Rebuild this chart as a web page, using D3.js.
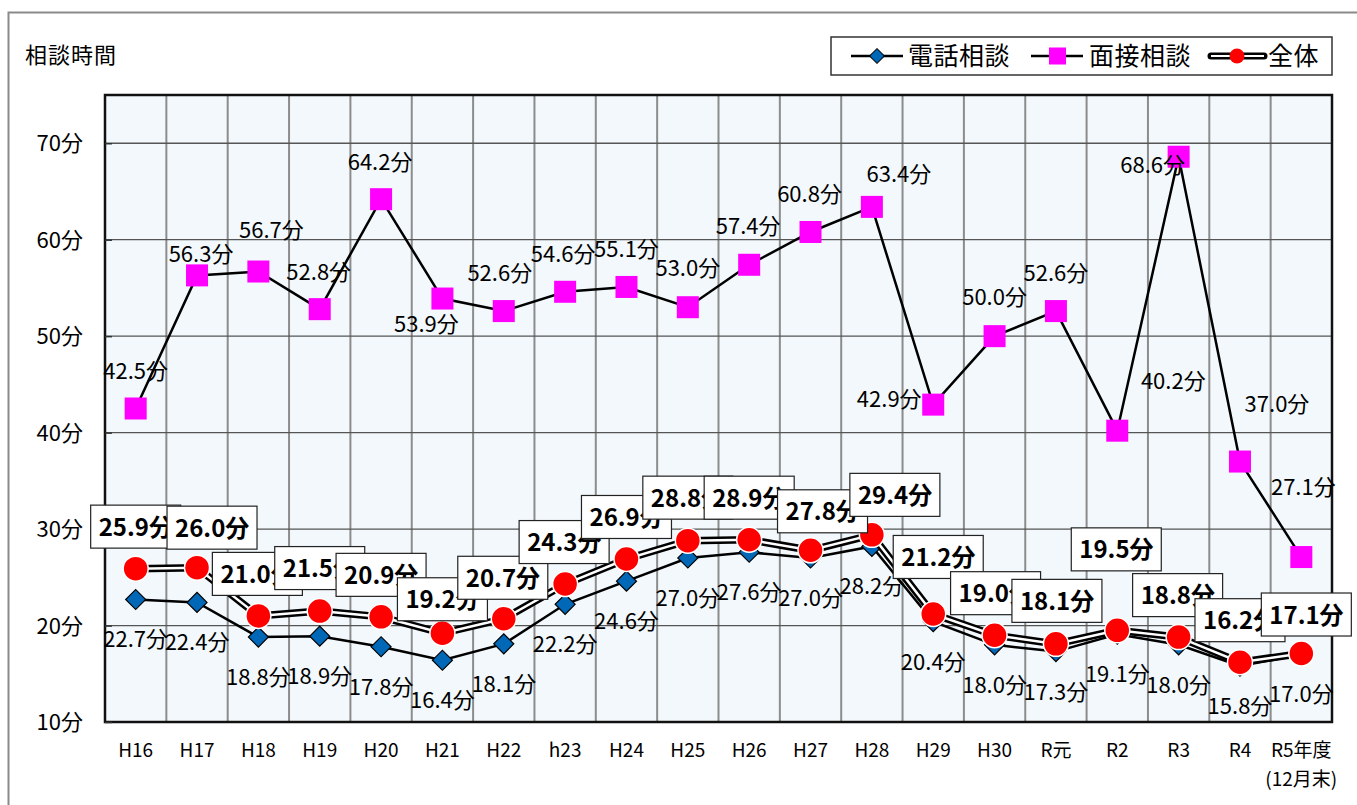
<html>
<head>
<meta charset="utf-8">
<script src="https://d3js.org/d3.v7.min.js"></script>
<style>
body {margin: 0; background: white;}
text {font-family: "Noto Sans CJK JP", "Noto Sans", sans-serif; fill: black;}
</style>
</head>
<body>
<div id="chart"></div>
<script>
// data
var categories = ["H16","H17","H18","H19","H20","H21","H22","h23","H24","H25","H26","H27","H28","H29","H30","R元","R2","R3","R4","R5年度"];
var lastNote = "(12月末)";
var phone = [22.7,22.4,18.8,18.9,17.8,16.4,18.1,22.2,24.6,27.0,27.6,27.0,28.2,20.4,18.0,17.3,19.1,18.0,15.8,17.0];
var visit = [42.5,56.3,56.7,52.8,64.2,53.9,52.6,54.6,55.1,53.0,57.4,60.8,63.4,42.9,50.0,52.6,40.2,68.6,37.0,27.1];
var total = [25.9,26.0,21.0,21.5,20.9,19.2,20.7,24.3,26.9,28.8,28.9,27.8,29.4,21.2,19.0,18.1,19.5,18.8,16.2,17.1];
var yTicks = [10,20,30,40,50,60,70];
var seriesNames = ["電話相談","面接相談","全体"];

// label placements (pixel offsets from the point), as in the original chart
var visitLabelOff = [[0,-30],[4,-13],[13,-34],[-1,-29],[-1,-29],[-16,33],[-4,-30],[-2,-30],[0,-30],[0,-31],[-1,-31],[-1,-30],[27,-25],[-44,2],[0,-31],[0,-30],[56,-42],[-26,16],[37,-50],[2,-62]];
var totalLabelOff = [[0,-42],[15,-40],[-1,-42],[0,-43],[0,-42],[0,-34],[-1,-41],[-1,-42],[0,-42],[0,-43],[0,-42],[12,-39],[23,-40],[5,-57],[1,-42],[1,-43],[-1,-81],[-1,-42],[0,-42],[5,-39]];

var W = 1357, H = 805;
var svg = d3.select("#chart").append("svg").attr("width", W).attr("height", H);

// outer frame
svg.append("rect").attr("x",8.5).attr("y",12.5).attr("width",W).attr("height",H)
  .attr("fill","white").attr("stroke","#8a8a8a").attr("stroke-width",2);

var pL = 105, pR = 1332, pT = 95, pB = 722;
var x = d3.scaleBand().domain(categories).range([pL, pR]).padding(0);
var y = d3.scaleLinear().domain([10, 75]).range([pB, pT]);
var cx = function(i){ return x(categories[i]) + x.bandwidth()/2; };

// plot background
svg.append("rect").attr("x",pL).attr("y",pT).attr("width",pR-pL).attr("height",pB-pT)
  .attr("fill","#f2f8fb");

// vertical grid at category boundaries
svg.append("g").selectAll("line").data(categories.slice(1)).enter().append("line")
  .attr("x1", function(d){ return x(d); }).attr("x2", function(d){ return x(d); })
  .attr("y1", pT).attr("y2", pB)
  .attr("stroke","#8c8c8c").attr("stroke-width",2);

// horizontal grid
svg.append("g").selectAll("line").data(yTicks.slice(1)).enter().append("line")
  .attr("x1", pL).attr("x2", pR)
  .attr("y1", function(d){ return y(d); }).attr("y2", function(d){ return y(d); })
  .attr("stroke","#555").attr("stroke-width",1.3);

svg.append("rect").attr("x",pL).attr("y",pT).attr("width",pR-pL).attr("height",pB-pT)
  .attr("fill","none").attr("stroke","#111").attr("stroke-width",2.5);

// y axis
var yAxis = svg.append("g").attr("transform","translate(" + pL + ",0)")
  .call(d3.axisLeft(y).tickValues(yTicks).tickSize(-7).tickPadding(22).tickFormat(function(d){ return d + "分"; }));
yAxis.select(".domain").remove();
yAxis.selectAll("line").attr("stroke","#333").attr("stroke-width",1.5);
yAxis.selectAll("text").style("font-size","22px").attr("fill","black").attr("dy","0.35em")
  .style("font-family","'Noto Sans CJK JP', sans-serif");

svg.append("text").attr("x",25).attr("y",63).style("font-size","22px").style("letter-spacing","1px").text("相談時間");

// x labels
var xl = svg.append("g");
xl.selectAll("text").data(categories).enter().append("text")
  .attr("x", function(d,i){ return cx(i); }).attr("y", 757)
  .attr("text-anchor","middle").style("font-size","19px")
  .text(function(d){ return d; });
xl.append("text").attr("x", cx(categories.length-1)).attr("y", 786)
  .attr("text-anchor","middle").style("font-size","19px").text(lastNote);

var line = d3.line().x(function(d,i){ return cx(i); }).y(function(d){ return y(d); });

// 面接相談
svg.append("path").datum(visit).attr("d", line).attr("fill","none").attr("stroke","black").attr("stroke-width",2.5);
svg.append("g").selectAll("rect").data(visit).enter().append("rect")
  .attr("x", function(d,i){ return cx(i)-11; }).attr("y", function(d){ return y(d)-11; })
  .attr("width",22).attr("height",22).attr("fill","#ff00ff");

// 電話相談
svg.append("path").datum(phone).attr("d", line).attr("fill","none").attr("stroke","black").attr("stroke-width",2.5);
svg.append("g").selectAll("path").data(phone).enter().append("path")
  .attr("d", d3.symbol().type(d3.symbolSquare).size(200))
  .attr("transform", function(d,i){ return "translate(" + cx(i) + "," + y(d) + ") rotate(45)"; })
  .attr("fill","#0068b7").attr("stroke","black").attr("stroke-width",1.2);

// 全体 (double line)
svg.append("path").datum(total).attr("d", line).attr("fill","none").attr("stroke","black").attr("stroke-width",7.5);
svg.append("path").datum(total).attr("d", line).attr("fill","none").attr("stroke","white").attr("stroke-width",2.5);
svg.append("g").selectAll("circle").data(total).enter().append("circle")
  .attr("cx", function(d,i){ return cx(i); }).attr("cy", function(d){ return y(d); })
  .attr("r",12.5).attr("fill","#ff0000").attr("stroke","white").attr("stroke-width",1.5);

// labels 面接
svg.append("g").selectAll("text").data(visit).enter().append("text")
  .attr("x", function(d,i){ return cx(i) + visitLabelOff[i][0]; })
  .attr("y", function(d,i){ return y(d) + visitLabelOff[i][1]; })
  .attr("text-anchor","middle").style("font-size","22px")
  .text(function(d){ return d.toFixed(1) + "分"; });

// labels 電話
svg.append("g").selectAll("text").data(phone).enter().append("text")
  .attr("x", function(d,i){ return cx(i); })
  .attr("y", function(d){ return y(d) + 48; })
  .attr("text-anchor","middle").style("font-size","22px")
  .text(function(d){ return d.toFixed(1) + "分"; });

// boxed labels 全体
var boxes = svg.append("g").selectAll("g").data(total).enter().append("g")
  .attr("transform", function(d,i){ return "translate(" + (cx(i) + totalLabelOff[i][0]) + "," + (y(d) + totalLabelOff[i][1]) + ")"; });
boxes.append("rect").attr("x",-45).attr("y",-21.5).attr("width",90).attr("height",43)
  .attr("fill","white").attr("stroke","#222").attr("stroke-width",1.2);
boxes.append("text").attr("x",-37).attr("y",9).style("font-size","24px").style("font-weight","bold")
  .text(function(d){ return d.toFixed(1) + "分"; });

// legend
var lg = svg.append("g");
lg.append("rect").attr("x",831).attr("y",37).attr("width",501).attr("height",38)
  .attr("fill","white").attr("stroke","#333").attr("stroke-width",1.5);
var ly = 56;
lg.append("line").attr("x1",851).attr("x2",903).attr("y1",ly).attr("y2",ly).attr("stroke","black").attr("stroke-width",2.5);
lg.append("path").attr("d", d3.symbol().type(d3.symbolSquare).size(110)).attr("transform","translate(877," + ly + ") rotate(45)")
  .attr("fill","#0068b7").attr("stroke","black").attr("stroke-width",1);
lg.append("line").attr("x1",1031).attr("x2",1083).attr("y1",ly).attr("y2",ly).attr("stroke","black").attr("stroke-width",2.5);
lg.append("rect").attr("x",1049).attr("y",ly-8.5).attr("width",17).attr("height",17).attr("fill","#ff00ff");
lg.append("line").attr("x1",1211).attr("x2",1264).attr("y1",ly).attr("y2",ly).attr("stroke","black").attr("stroke-width",7).attr("stroke-linecap","round");
lg.append("line").attr("x1",1211).attr("x2",1264).attr("y1",ly).attr("y2",ly).attr("stroke","white").attr("stroke-width",2.2);
lg.append("circle").attr("cx",1237).attr("cy",ly).attr("r",7.5).attr("fill","#ff0000");
var legX = [908, 1089, 1268];
lg.selectAll("text.lt").data(seriesNames).enter().append("text").attr("class","lt")
  .attr("x", function(d,i){ return legX[i]; }).attr("y", ly + 9)
  .style("font-size","25px").style("letter-spacing","0.5px")
  .text(function(d){ return d; });
</script>
</body>
</html>
